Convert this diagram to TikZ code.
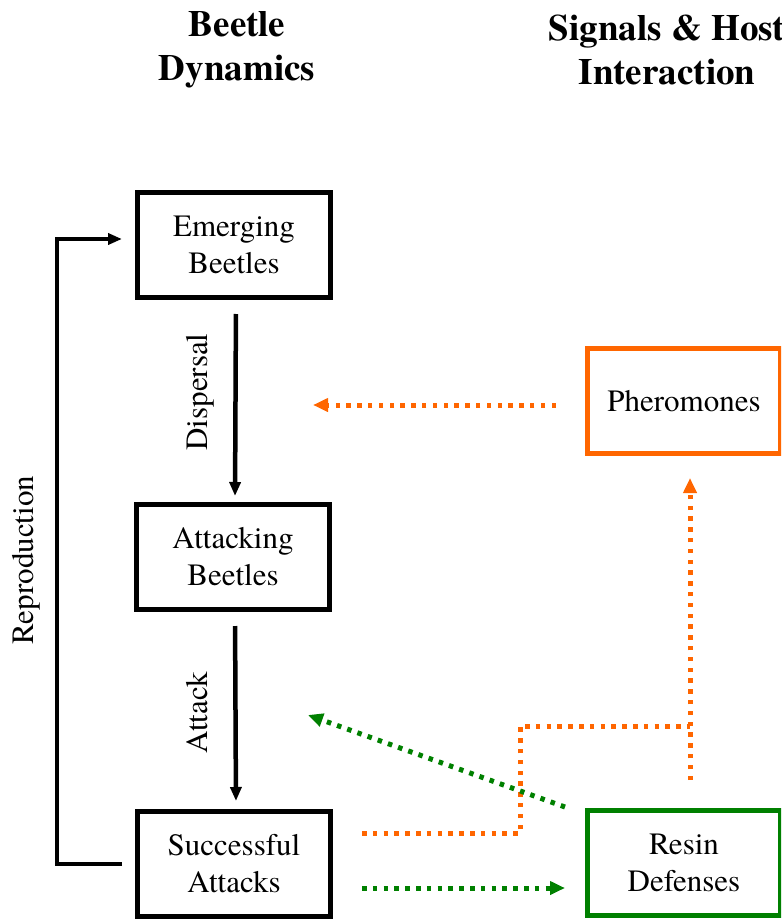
\documentclass[tikz,border=0pt]{standalone}
\usepackage{fontspec}
\setmainfont{TeX Gyre Termes}
\usetikzlibrary{arrows.meta}
\definecolor{phor}{RGB}{255,102,0}
\definecolor{resgr}{RGB}{0,128,0}
\tikzset{
  box/.style={draw, line width=5pt, minimum width=193pt, minimum height=105pt, align=center, inner sep=0pt, font=\rmfamily\fontsize{31}{37}\selectfont},
  title/.style={align=center, inner sep=0pt, font=\rmfamily\bfseries\fontsize{37}{44}\selectfont},
  lbl/.style={rotate=90, inner sep=0pt, font=\rmfamily\fontsize{31}{37}\selectfont},
  solidarr/.style={line width=4.5pt, -{Triangle[length=14pt,width=11pt]}},
  dotarr/.style={line width=5pt, dash pattern=on 4.5pt off 6.3pt},
  dottip/.style={-{Triangle[length=15pt,width=13pt]}}
}
\begin{document}
\begin{tikzpicture}[x=1pt,y=-1pt]
\useasboundingbox (0,0) rectangle (781,920);
\clip (0,0) rectangle (781,920);
% titles
\node[title] (t1) at (237,50) {Beetle\\Dynamics};
\node[title] (t2) at (667,50) {Signals \& Host\\Interaction};
% boxes
\node[box] (emerg) at (234,245) {Emerging\\Beetles};
\node[box] (attack) at (233,557) {Attacking\\Beetles};
\node[box] (succ) at (234,864) {Successful\\Attacks};
\node[box, draw=phor] (pher) at (684,401) {Pheromones};
\node[box, draw=resgr] (resin) at (684,863) {Resin\\Defenses};
% black arrows
\draw[solidarr, shorten <=14pt, shorten >=6pt] ([xshift=2pt]emerg.south) -- ([xshift=2pt]attack.north);
\node[lbl] (ldisp) at (200,392) {Dispersal};
\draw[solidarr, shorten <=14pt, shorten >=8pt] ([xshift=2pt]attack.south) -- ([xshift=2pt]succ.north);
\node[lbl] (latt) at (197,713) {Attack};
\coordinate (rtop) at (57,239);
\coordinate (rbot) at (57,864);
\draw[line width=4.5pt, -{Triangle[length=14pt,width=11pt]}, shorten <=13pt, shorten >=13pt]
  (succ.west) -- (rbot) -- (rtop) -- ([yshift=6pt]emerg.west);
\node[lbl] (lrep) at (26,560) {Reproduction};
% orange
\coordinate (phtgt) at (313,405);
\draw[dotarr, dottip, phor, shorten <=29pt] ([yshift=-4pt]pher.west) -- (phtgt);
\coordinate (oj) at (690,726);
\coordinate (otip) at (690,478);
\coordinate (obot) at (690,780);
\draw[dotarr, dottip, phor] (obot) -- (otip);
\coordinate (ostart) at (362,833);
\draw[dotarr, phor] (ostart) -- (520,833) -- (520,726) -- (oj);
% green
\coordinate (gstart) at (565,807);
\coordinate (gtgt) at (308,715);
\draw[dotarr, dottip, resgr] (gstart) -- (gtgt);
\coordinate (gb1) at (362,888);
\coordinate (gb2) at (565,888);
\draw[dotarr, dottip, resgr] (gb1) -- (gb2);
\end{tikzpicture}
\end{document}
